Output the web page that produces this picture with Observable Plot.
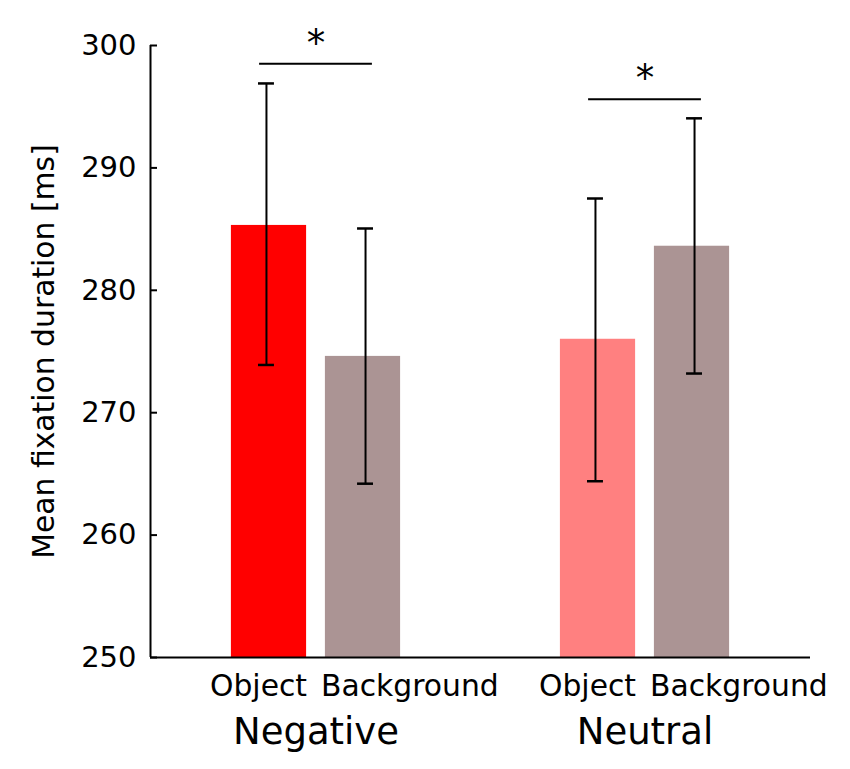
<!DOCTYPE html>
<html>
<head>
<meta charset="utf-8">
<script src="https://cdn.jsdelivr.net/npm/d3@7"></script>
<script src="https://cdn.jsdelivr.net/npm/@observablehq/plot@0.6"></script>
<style>
  body { margin: 0; background: #fff; }
  #chart svg { display: block; }
</style>
</head>
<body>
<div id="chart"></div>
<script>
// ---- data ----
const groups = ["Negative", "Neutral"];
const conditions = ["Object", "Background"];
const barGroup = ["Negative", "Negative", "Neutral", "Neutral"];
const barCondition = ["Object", "Background", "Object", "Background"];
const meanValues = [285.3, 274.6, 276.0, 283.6];
const errLow = [273.9, 264.2, 264.4, 273.2];
const errHigh = [296.9, 285.05, 287.5, 294.05];
const barColors = ["#ff0000", "#ab9494", "#ff8080", "#ab9494"];
const yTicks = [250, 260, 270, 280, 290, 300];
const sigGroups = ["Negative", "Neutral"];
const sigLevels = [298.5, 295.6];
const sigLabels = ["*", "*"];
const yLabel = "Mean fixation duration [ms]";

// ---- layout ----
const groupStart = {Negative: 0, Neutral: 3.5};
const condOffset = {Object: 0, Background: 1};
const errShift = {Object: -0.027, Background: 0.027};
const barWidth = 0.8;
const capHalf = 0.085;
const sigHalf = 0.6;
const xDomain = [-1.2606, 5.7606];
const yDomain = [250, 300];

const bars = meanValues.map((v, i) => {
  const pos = groupStart[barGroup[i]] + condOffset[barCondition[i]];
  return {
    group: barGroup[i], condition: barCondition[i], value: v,
    lo: errLow[i], hi: errHigh[i], color: barColors[i],
    pos, epos: pos + errShift[barCondition[i]]
  };
});
const groupCenters = groups.map(g => ({group: g, pos: groupStart[g] + 0.5}));
const sig = sigGroups.map((g, i) => ({group: g, level: sigLevels[i], label: sigLabels[i], pos: groupStart[g] + 0.5}));

const chart = Plot.plot({
  width: 850,
  height: 769,
  marginLeft: 150,
  marginRight: 40,
  marginTop: 45,
  marginBottom: 112,
  style: {fontFamily: "DejaVu Sans", fontSize: "29px", color: "black", background: "white", overflow: "visible"},
  x: {domain: xDomain, axis: null},
  y: {domain: yDomain, axis: null, label: null},
  color: {type: "identity"},
  marks: [
    Plot.rectY(bars, {x1: d => d.pos - barWidth / 2, x2: d => d.pos + barWidth / 2, y1: yDomain[0], y2: "value", fill: "color"}),
    Plot.ruleX(bars, {x: "epos", y1: "lo", y2: "hi", stroke: "black", strokeWidth: 2}),
    Plot.ruleY(bars, {y: "hi", x1: d => d.epos - capHalf, x2: d => d.epos + capHalf, stroke: "black", strokeWidth: 2.5}),
    Plot.ruleY(bars, {y: "lo", x1: d => d.epos - capHalf, x2: d => d.epos + capHalf, stroke: "black", strokeWidth: 2.5}),
    Plot.ruleY(sig, {y: "level", x1: d => d.pos - sigHalf, x2: d => d.pos + sigHalf, stroke: "black", strokeWidth: 2}),
    Plot.text(sig, {x: "pos", y: "level", text: "label", fontSize: 37, lineAnchor: "middle", dy: -20}),
    Plot.ruleX([xDomain[0]], {stroke: "black", strokeWidth: 2}),
    Plot.ruleY([yDomain[0]], {stroke: "black", strokeWidth: 2}),
    Plot.axisY(yTicks, {tickSize: 0, tickPadding: 14, fontSize: 29, label: null}),
    Plot.axisY(yTicks, {tickSize: 7, dx: 7, tickFormat: () => "", label: null, strokeWidth: 2}),
    Plot.text(bars.filter(d => d.condition === "Object"), {x: "pos", y: yDomain[0], text: "condition", textAnchor: "start", dx: -59, dy: 28.5, fontSize: 29.8}),
    Plot.text(bars.filter(d => d.condition === "Background"), {x: "pos", y: yDomain[0], text: "condition", textAnchor: "start", dx: -42, dy: 28.5, fontSize: 29.8}),
    Plot.text(groupCenters, {x: "pos", y: yDomain[0], text: "group", fontSize: 37, dy: 74.2}),
    Plot.text([yLabel], {frameAnchor: "left", text: d => d, rotate: -90, textAnchor: "middle", lineAnchor: "middle", dx: -106, fontSize: 29.8})
  ]
});
document.getElementById("chart").appendChild(chart);
</script>
</body>
</html>
